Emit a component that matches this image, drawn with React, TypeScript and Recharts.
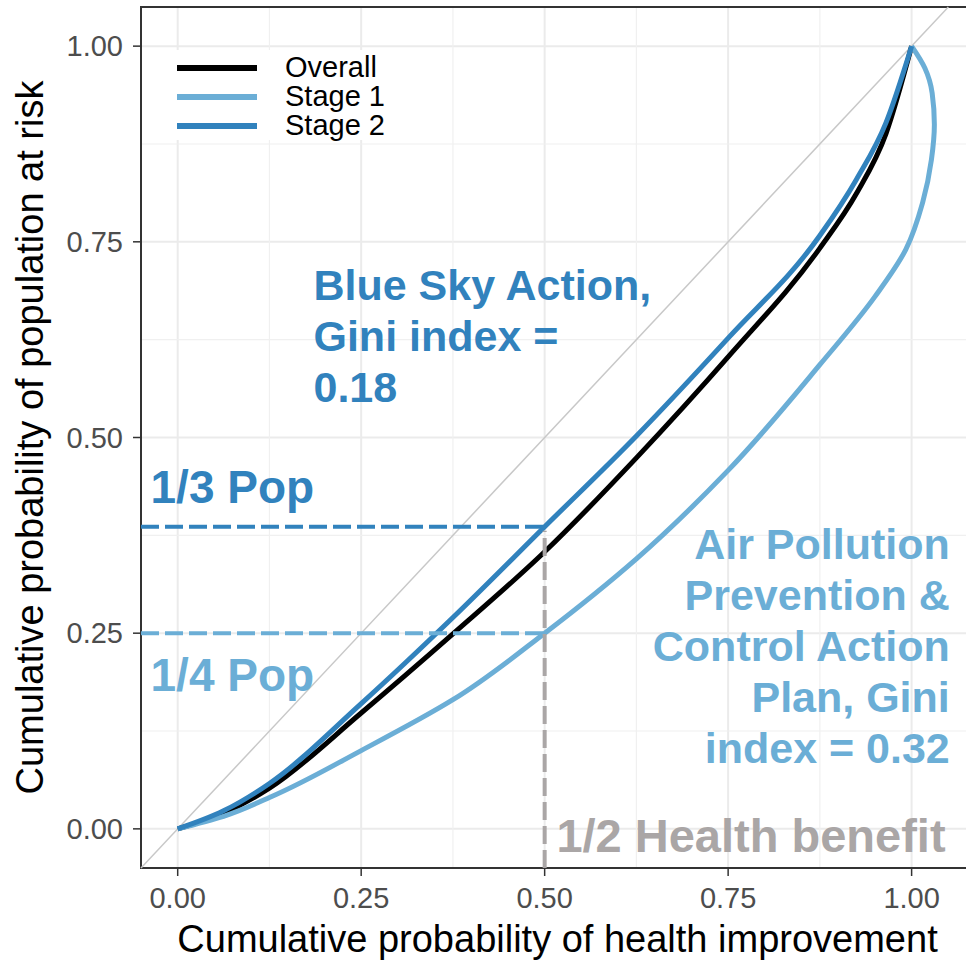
import {
  CartesianGrid,
  Legend,
  Line,
  LineChart,
  ReferenceArea,
  ReferenceDot,
  ReferenceLine,
  XAxis,
  YAxis
} from "recharts";

// curve points (x = cumulative health improvement, y = cumulative population)
const overallX = [0, 0.0625, 0.125, 0.25, 0.375, 0.5, 0.625, 0.75, 0.875, 0.925, 0.965, 1.0];
const overallY = [0, 0.02, 0.052, 0.148, 0.249, 0.354, 0.474, 0.603, 0.742, 0.812, 0.888, 1.0];

const stage1X = [0, 0.0625, 0.125, 0.25, 0.375, 0.5, 0.625, 0.75, 0.875, 0.95, 0.992, 1.015, 1.027, 1.031, 1.028, 1.018, 1.0];
const stage1Y = [0, 0.016, 0.04, 0.1, 0.165, 0.25, 0.345, 0.458, 0.593, 0.68, 0.74, 0.8, 0.855, 0.9, 0.94, 0.972, 1.0];

const stage2X = [0, 0.0625, 0.125, 0.25, 0.375, 0.5, 0.625, 0.75, 0.875, 0.925, 0.965, 1.0];
const stage2Y = [0, 0.023, 0.058, 0.16, 0.27, 0.386, 0.502, 0.627, 0.758, 0.83, 0.902, 1.0];

const majorTicks = [0, 0.25, 0.5, 0.75, 1];
const minorTicks = [0.125, 0.375, 0.625, 0.875];

const xDomain = [-0.05, 1.085];
const yDomain = [-0.05, 1.05];

// reference levels
const thirdPop = 0.386;
const quarterPop = 0.25;
const halfBenefit = 0.5;

const blueSkyLines = ["Blue Sky Action,", "Gini index =", "0.18"];
const airPlanLines = ["Air Pollution", "Prevention &", "Control Action", "Plan, Gini", "index = 0.32"];

const BLACK = "#000000";
const LIGHT = "#6baed6";
const BLUE = "#3182bd";
const GREY = "#aaa6a6";

const toPoints = (xs: number[], ys: number[]) => xs.map((x, i) => ({ x, y: ys[i] }));

const overallData = toPoints(overallX, overallY);
const stage1Data = toPoints(stage1X, stage1Y);
const stage2Data = toPoints(stage2X, stage2Y);

const axisFont = "'Liberation Sans', Arial, sans-serif";

const tickStyle = { fontFamily: axisFont, fontSize: 29, fill: "#4d4d4d" };

function LegendBox({ payload }: { payload?: Array<{ value: string; color: string }> }) {
  return (
    <div style={{ background: "#fff", paddingTop: 3, width: 240 }}>
      {(payload || []).map((p) => (
        <div key={p.value} style={{ display: "flex", alignItems: "center", height: 29 }}>
          <div style={{ width: 80, height: 6, background: p.color, marginLeft: 17 }} />
          <span style={{ marginLeft: 28, fontFamily: axisFont, fontSize: 29, lineHeight: "29px", color: "#000" }}>
            {p.value}
          </span>
        </div>
      ))}
    </div>
  );
}

// one <text> per line so the lines never share a box
const noteShape =
  (lines: string[], color: string, anchor: "start" | "end", size: number, lineGap: number) =>
  (props: { cx?: number; cy?: number }) => {
    const { cx = 0, cy = 0 } = props;
    return (
      <g>
        {lines.map((l, i) => (
          <text
            key={i}
            x={cx}
            y={cy + i * lineGap}
            fill={color}
            textAnchor={anchor}
            fontFamily={axisFont}
            fontSize={size}
            fontWeight={700}
          >
            {l}
          </text>
        ))}
      </g>
    );
  };

export default function App() {
  return (
    <div
      style={{
        position: "absolute",
        left: 0,
        top: 0,
        width: 966,
        height: 961,
        overflow: "hidden",
        background: "#fff"
      }}
    >
      <LineChart width={990} height={961} margin={{ top: 7, right: 16, bottom: 0, left: 0 }}>
        <CartesianGrid stroke="#ebebeb" strokeWidth={2} />
        <CartesianGrid
          stroke="#f0f0f0"
          strokeWidth={1.2}
          verticalValues={minorTicks}
          horizontalValues={minorTicks}
        />
        <XAxis
          dataKey="x"
          type="number"
          domain={xDomain}
          ticks={majorTicks}
          allowDataOverflow
          tickFormatter={(v: number) => v.toFixed(2)}
          tick={tickStyle}
          tickSize={8}
          tickMargin={11}
          tickLine={{ stroke: "#333", strokeWidth: 1.5 }}
          axisLine={false}
          height={93}
          label={{
            value: "Cumulative probability of health improvement",
            position: "insideBottom",
            offset: 9,
            style: { fontFamily: axisFont, fontSize: 38, fill: "#000" }
          }}
        />
        <YAxis
          type="number"
          domain={yDomain}
          ticks={majorTicks}
          allowDataOverflow
          tickFormatter={(v: number) => v.toFixed(2)}
          tick={tickStyle}
          tickSize={8}
          tickMargin={10}
          tickLine={{ stroke: "#333", strokeWidth: 1.5 }}
          axisLine={false}
          width={141}
          label={{
            value: "Cumulative probability of population at risk",
            angle: -90,
            position: "insideLeft",
            offset: 30,
            style: { fontFamily: axisFont, fontSize: 38, fill: "#000", textAnchor: "middle" }
          }}
        />
        <ReferenceLine
          segment={[
            { x: yDomain[0], y: yDomain[0] },
            { x: yDomain[1], y: yDomain[1] }
          ]}
          stroke="#c8c8c8"
          strokeWidth={1.5}
        />
        <Legend layout="vertical" align="center" verticalAlign="middle" content={<LegendBox />}
          wrapperStyle={{ left: 160, top: 50, width: 240 }} />
        <Line data={overallData} dataKey="y" name="Overall" type="monotone" stroke={BLACK} strokeWidth={5}
          dot={false} isAnimationActive={false} />
        <Line data={stage1Data} dataKey="y" name="Stage 1" type="monotoneY" stroke={LIGHT} strokeWidth={5}
          dot={false} isAnimationActive={false} />
        <Line data={stage2Data} dataKey="y" name="Stage 2" type="monotone" stroke={BLUE} strokeWidth={5}
          dot={false} isAnimationActive={false} />
        <ReferenceLine
          segment={[
            { x: xDomain[0], y: thirdPop },
            { x: halfBenefit, y: thirdPop }
          ]}
          stroke={BLUE}
          strokeWidth={4}
          strokeDasharray="18 6"
        />
        <ReferenceLine
          segment={[
            { x: xDomain[0], y: quarterPop },
            { x: halfBenefit, y: quarterPop }
          ]}
          stroke={LIGHT}
          strokeWidth={4}
          strokeDasharray="18 6"
        />
        <ReferenceLine
          segment={[
            { x: halfBenefit, y: yDomain[0] },
            { x: halfBenefit, y: thirdPop - 0.005 }
          ]}
          stroke={GREY}
          strokeWidth={4}
          strokeDasharray="18 6"
        />
        <ReferenceArea
          x1={xDomain[0]}
          x2={xDomain[1]}
          y1={yDomain[0]}
          y2={yDomain[1]}
          fill="none"
          stroke="#333333"
          strokeWidth={2}
        />
        <ReferenceDot x={0.185} y={0.676} r={0}
          shape={noteShape(blueSkyLines, BLUE, "start", 43, 51)} />
        <ReferenceDot x={1.052} y={0.345} r={0}
          shape={noteShape(airPlanLines, LIGHT, "end", 43, 51)} />
        <ReferenceDot x={-0.037} y={0.416} r={0}
          shape={noteShape(["1/3 Pop"], BLUE, "start", 46, 0)} />
        <ReferenceDot x={-0.037} y={0.176} r={0}
          shape={noteShape(["1/4 Pop"], LIGHT, "start", 46, 0)} />
        <ReferenceDot x={0.516} y={-0.029} r={0}
          shape={noteShape(["1/2 Health benefit"], GREY, "start", 47, 0)} />
      </LineChart>
    </div>
  );
}
